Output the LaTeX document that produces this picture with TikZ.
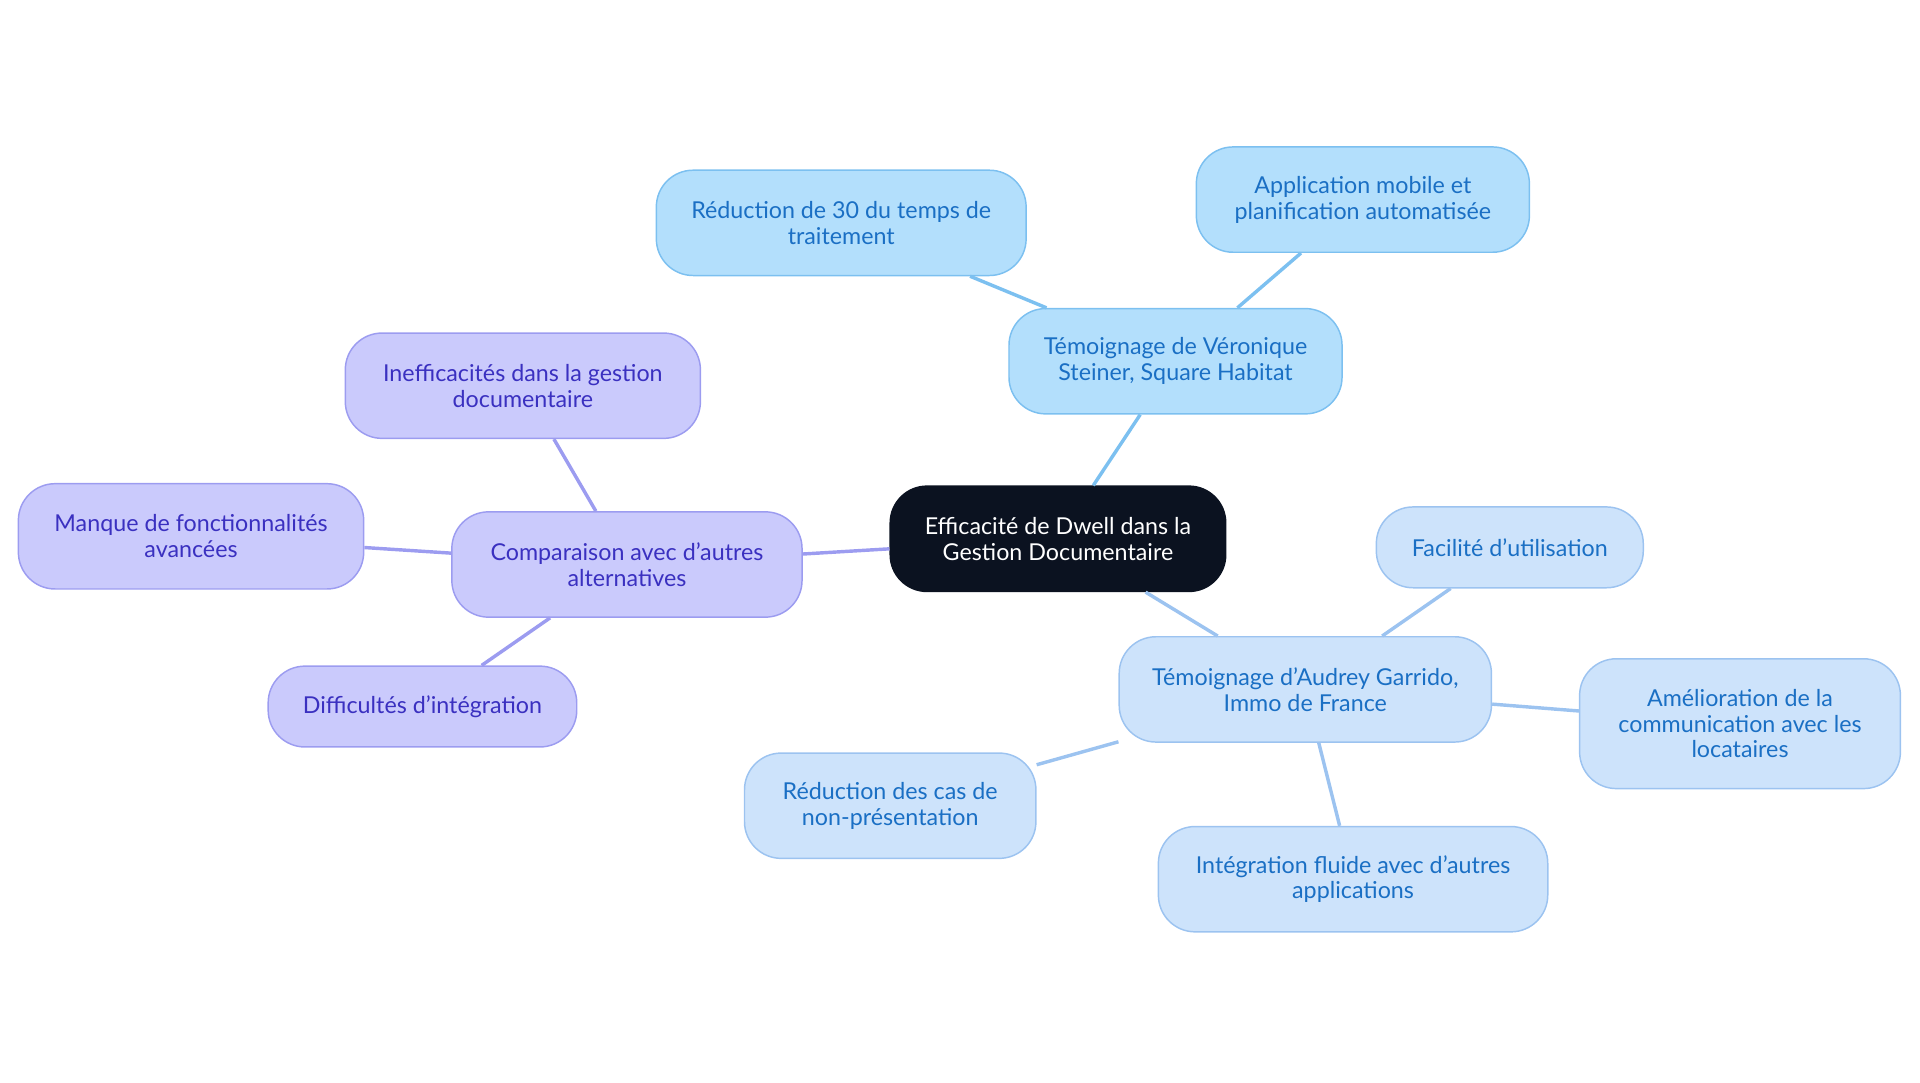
\documentclass[tikz,border=0pt]{standalone}
\usepackage{fontspec}
\setmainfont{Lato}
\usetikzlibrary{positioning}
\definecolor{rootfill}{HTML}{0B1220}
\definecolor{bluefill}{HTML}{B3DFFC}
\definecolor{blueline}{HTML}{7CC0F0}
\definecolor{bluetext}{HTML}{1A6FC4}
\definecolor{paleblue}{HTML}{CDE3FB}
\definecolor{palelines}{HTML}{9CC3F0}
\definecolor{purplefill}{HTML}{CACAFC}
\definecolor{purpleline}{HTML}{9C9CF0}
\definecolor{purpletext}{HTML}{3A30C0}
\tikzstyle{block} = [rectangle, rounded corners=15pt, align=center, font=\fontsize{9.5}{10.5}\selectfont, inner sep=2pt, line width=0.6pt]
\tikzstyle{root} = [block, fill=rootfill, draw=rootfill, text=white]
\tikzstyle{veronique} = [block, fill=bluefill, draw=blueline, text=bluetext]
\tikzstyle{audrey} = [block, fill=paleblue, draw=palelines, text=bluetext]
\tikzstyle{compare} = [block, fill=purplefill, draw=purpleline, text=purpletext]
\tikzstyle{link} = [line width=1.4pt]
\begin{document}
\begin{tikzpicture}[x=0.5pt, y=-0.5pt]
    \useasboundingbox (0,0) rectangle (1568,884);

    % Centre.
    \node (root) [root, minimum width=137pt, minimum height=43pt] at (864,440) {Efficacité de Dwell dans la\\Gestion Documentaire};

    % Véronique Steiner.
    \node (vero) [veronique, minimum width=136pt, minimum height=43pt] at (960,295) {Témoignage de Véronique\\Steiner, Square Habitat};
    \node (vero1) [veronique, minimum width=151pt, minimum height=43pt] at (687,182) {Réduction de 30 du temps de\\traitement};
    \node (vero2) [veronique, minimum width=136pt, minimum height=43pt] at (1113,163) {Application mobile et\\planification automatisée};

    % Audrey Garrido.
    \node (audrey) [audrey, minimum width=152pt, minimum height=43pt] at (1066,563) {Témoignage d'Audrey Garrido,\\Immo de France};
    \node (audrey1) [audrey, minimum width=109pt, minimum height=33pt] at (1233,447) {Facilité d'utilisation};
    \node (audrey2) [audrey, minimum width=131pt, minimum height=53pt] at (1421,591) {Amélioration de la\\communication avec les\\locataires};
    \node (audrey3) [audrey, minimum width=159pt, minimum height=43pt] at (1105,718) {Intégration fluide avec d'autres\\applications};
    \node (audrey4) [audrey, minimum width=119pt, minimum height=43pt] at (727,658) {Réduction des cas de\\non-présentation};

    % Comparaison.
    \node (comp) [compare, minimum width=143pt, minimum height=43pt] at (512,461) {Comparaison avec d'autres\\alternatives};
    \node (comp1) [compare, minimum width=145pt, minimum height=43pt] at (427,315) {Inefficacités dans la gestion\\documentaire};
    \node (comp2) [compare, minimum width=141pt, minimum height=43pt] at (156,438) {Manque de fonctionnalités\\avancées};
    \node (comp3) [compare, minimum width=126pt, minimum height=33pt] at (345,577) {Difficultés d'intégration};

    % Links.
    \draw [link, blueline] (root) -- (vero);
    \foreach\i in {1, 2} {
        \draw [link, blueline] (vero) -- (vero\i);
    }
    \draw [link, palelines] (root) -- (audrey);
    \foreach\i in {1, ..., 4} {
        \draw [link, palelines] (audrey) -- (audrey\i);
    }
    \draw [link, purpleline] (root) -- (comp);
    \foreach\i in {1, 2, 3} {
        \draw [link, purpleline] (comp) -- (comp\i);
    }
\end{tikzpicture}
\end{document}
